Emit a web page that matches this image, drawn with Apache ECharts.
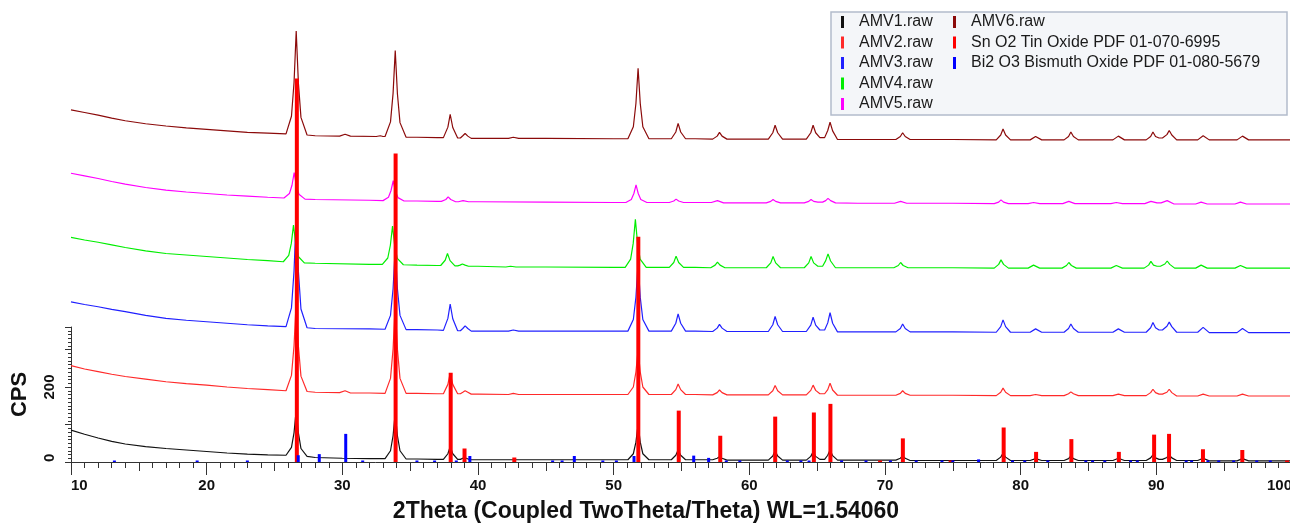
<!DOCTYPE html>
<html>
<head>
<meta charset="utf-8">
<title>XRD AMV</title>
<script src="https://cdn.jsdelivr.net/npm/echarts@6/dist/echarts.min.js"></script>
<style>
  html, body { margin: 0; padding: 0; background: #fff; }
  #chart { width: 1290px; height: 524px; }
</style>
</head>
<body>
<div id="chart"></div>
<script>
// scans, [2theta, CPS] (stacked offsets included)
var amv1 = [[10,85],[11,74],[12,64],[13,55],[14,48],[15.5,41],[17,36],[18.5,32],[20,28],[21.5,24],[23,21],[24.5,19],
  [25.85,18],[26.25,39],[26.44,78],[26.6,139],[26.76,78],[26.95,36],[27.4,15],[28,12],[30,10],[32,9],
  [33.15,9],[33.55,30],[33.74,70],[33.9,131],[34.06,70],[34.25,30],[34.7,8],[35.5,8],[37,7],
  [37.45,7],[37.78,22],[37.95,41],[38.14,22],[38.5,7],[38.7,7],[39.0,12],[39.4,6],[40,6],[45,6],[50,6],
  [51.05,6],[51.45,22],[51.64,53],[51.8,100],[51.96,53],[52.15,22],[52.6,6],[53,6],
  [54.25,6],[54.58,18],[54.75,32],[54.94,18],[55.3,6],[56,6],[57.3,6],[57.63,10],[57.8,14],[57.99,10],[58.35,5],[59,5],
  [61.4,5],[61.73,16],[61.9,30],[62.09,16],[62.45,5],[63,5],[64.2,5],[64.53,15],[64.7,27],[64.89,15],[65.2,7],
  [65.55,7],[65.78,18],[65.95,32],[66.14,17],[66.5,5],[68,5],[70.8,5],[71.13,10],[71.3,16],[71.49,10],[71.85,4],[75,4],
  [78.2,4],[78.53,13],[78.7,23],[78.89,13],[79.25,4],[80,4],[80.7,4],[81.1,9],[81.55,4],
  [83.2,4],[83.53,9],[83.7,16],[83.89,9],[84.25,4],[85,4],[86.8,4],[87.2,10],[87.65,4],[88.5,4],
  [89.25,4],[89.58,11],[89.75,19],[89.94,11],[90.2,7],[90.45,7],[90.78,12],[90.95,19],[91.14,11],[91.5,4],[92,4],
  [93.05,4],[93.45,10],[93.9,3],[95,3],[95.95,3],[96.35,9],[96.8,3],[98,3],[100,3]];
var amv2 = [[10,257],[11,248],[12,241],[13,234],[14,228],[15.5,221],[17,214],[18.5,209],[20,205],[21.5,200],[23,196],[24.5,193],
  [25.85,190],[26.25,231],[26.44,310],[26.6,430],[26.76,310],[26.95,229],[27.4,188],[28,186],[29.8,185],[30.2,190],[30.6,184],[32,184],
  [33.15,183],[33.55,223],[33.74,301],[33.9,420],[34.06,301],[34.25,223],[34.7,183],[35.5,183],[37,182],
  [37.45,182],[37.78,207],[37.95,237],[38.14,207],[38.5,182],[38.7,182],[38.88,186],[39.05,190],[39.25,186],[39.5,181],
  [40,181],[42.25,180],[42.6,183],[43.0,180],[45,180],[50,180],
  [51.05,180],[51.45,200],[51.64,240],[51.8,299],[51.96,240],[52.15,200],[52.6,180],[53,180],
  [54.25,180],[54.58,193],[54.75,208],[54.94,193],[55.3,180],[56,180],[57.3,179],[57.63,185],[57.8,192],[57.99,185],[58.35,179],[59,179],
  [61.4,179],[61.73,190],[61.9,204],[62.09,190],[62.45,179],[63,179],[64.2,179],[64.53,191],[64.7,205],[64.89,191],[65.2,182],
  [65.55,182],[65.78,193],[65.95,210],[66.14,192],[66.5,178],[68,178],[70.8,178],[71.13,183],[71.3,190],[71.49,183],[71.85,178],[75,178],
  [78.2,177],[78.53,186],[78.7,197],[78.89,186],[79.25,177],[80,177],[80.7,177],[81.1,180],[81.55,177],
  [83.2,177],[83.53,182],[83.7,187],[83.89,182],[84.25,177],[85,177],[86.8,177],[87.2,181],[87.65,177],[88.5,177],
  [89.25,177],[89.58,185],[89.75,194],[89.94,185],[90.2,181],[90.45,181],[90.78,186],[90.95,194],[91.14,185],[91.5,176],[92,176],
  [93.05,176],[93.45,181],[93.9,176],[95,176],[95.95,176],[96.35,181],[96.8,176],[98,176],[100,176]];
var amv3 = [[10,427],[11,420],[12,414],[13,407],[14,401],[15.5,391],[17,383],[18.5,378],[20,374],[21.5,370],[23,366],[24.5,363],
  [25.85,361],[26.25,411],[26.44,509],[26.6,656],[26.76,509],[26.95,408],[27.4,358],[28,356],[32,355],
  [33.15,354],[33.55,391],[33.74,462],[33.9,570],[34.06,462],[34.25,391],[34.7,353],[35.5,353],[37,352],
  [37.45,351],[37.78,383],[37.95,421],[38.14,382],[38.5,350],[38.7,350],[38.88,356],[39.05,363],[39.25,356],[39.5,349],
  [40,349],[42.25,349],[42.6,352],[43.0,349],[45,349],[50,349],
  [51.05,349],[51.45,380],[51.64,439],[51.8,530],[51.96,439],[52.15,380],[52.6,349],[53,349],
  [54.25,349],[54.58,370],[54.75,395],[54.94,370],[55.3,349],[56,349],[57.3,348],[57.63,357],[57.8,367],[57.99,357],[58.35,348],[59,348],
  [61.4,348],[61.73,366],[61.9,388],[62.09,366],[62.45,348],[63,348],[64.2,348],[64.53,365],[64.7,386],[64.89,365],[65.2,352],
  [65.55,352],[65.78,371],[65.95,398],[66.14,370],[66.5,347],[68,347],[70.8,347],[71.13,356],[71.3,368],[71.49,356],[71.85,347],[75,347],
  [78.2,346],[78.53,361],[78.7,379],[78.89,361],[79.25,346],[80,346],[80.7,346],[81.1,355],[81.55,346],
  [83.2,346],[83.53,356],[83.7,368],[83.89,356],[84.25,346],[85,346],[86.8,346],[87.2,355],[87.65,346],[88.5,346],
  [89.25,346],[89.58,358],[89.75,372],[89.94,358],[90.2,352],[90.45,352],[90.78,362],[90.95,373],[91.14,361],[91.5,346],[92,346],
  [93.05,346],[93.45,359],[93.9,345],[95,345],[95.95,345],[96.35,356],[96.8,345],[98,345],[100,345]];
var amv4 = [[10,599],[11,592],[12,586],[13,579],[14,572],[15.5,563],[17,556],[18.5,552],[20,548],[21.5,544],[23,540],[24.5,537],
  [25.65,534],[26.05,551],[26.24,583],[26.4,632],[26.56,582],[26.75,548],[27.2,531],[28,530],[32,527],
  [32.95,527],[33.35,544],[33.54,578],[33.7,629],[33.86,577],[34.05,543],[34.5,526],[35.5,525],[37,524],
  [37.25,524],[37.58,538],[37.75,556],[37.94,537],[38.3,523],[38.5,523],[38.68,525],[38.85,528],[39.05,525],[39.3,522],
  [40,522],[42.05,520],[42.4,522],[42.8,520],[45,520],[50,519],
  [50.85,519],[51.25,541],[51.44,583],[51.6,647],[51.76,583],[51.95,541],[52.4,519],[53,519],
  [54.1,519],[54.43,532],[54.6,549],[54.79,532],[55.15,519],[56,519],[57.15,518],[57.48,525],[57.65,533],[57.84,525],[58.2,518],[59,518],
  [61.25,518],[61.58,531],[61.75,548],[61.94,531],[62.3,518],[63,518],[64.05,518],[64.38,531],[64.55,548],[64.74,531],[65.05,522],
  [65.4,522],[65.63,537],[65.8,555],[65.99,536],[66.35,518],[68,518],[70.65,518],[70.98,524],[71.15,532],[71.34,524],[71.7,518],[75,518],
  [78.05,517],[78.38,527],[78.55,539],[78.74,527],[79.1,517],[80,517],[80.55,517],[80.95,525],[81.4,517],
  [83.05,517],[83.38,524],[83.55,532],[83.74,524],[84.1,517],[85,517],[86.65,517],[87.05,524],[87.5,517],[88.5,517],
  [89.1,517],[89.43,525],[89.6,535],[89.79,525],[90.05,522],[90.3,522],[90.63,528],[90.8,536],[90.99,527],[91.35,517],[92,517],
  [92.9,517],[93.3,525],[93.75,517],[95,517],[95.8,517],[96.2,524],[96.65,517],[98,517],[100,517]];
var amv5 = [[10,770],[11,763],[12,756],[13,748],[14,741],[15.5,732],[17,725],[18.5,720],[20,716],[21.5,712],[23,709],[24.5,706],
  [25.7,704],[26.1,716],[26.29,738],[26.45,772],[26.61,737],[26.8,714],[27.25,701],[28,700],[32,698],
  [33.0,697],[33.4,706],[33.59,724],[33.75,750],[33.91,723],[34.1,705],[34.55,696],[35.5,696],[37,695],
  [37.3,695],[37.63,700],[37.8,707],[37.99,700],[38.35,694],[38.55,694],[38.9,697],[39.3,694],
  [40,694],[45,693],[50,692],
  [50.9,692],[51.3,700],[51.49,716],[51.65,739],[51.81,716],[52.0,700],[52.45,692],[53,692],
  [54.1,692],[54.43,696],[54.6,701],[54.79,696],[55.15,692],[56,692],[57.2,692],[57.65,697],[58.1,691],[59,691],
  [61.25,691],[61.58,695],[61.75,700],[61.94,695],[62.3,691],[63,691],[64.05,691],[64.38,695],[64.55,700],[64.74,695],[65.05,693],
  [65.4,693],[65.63,697],[65.8,703],[65.99,697],[66.35,691],[68,690],[70.7,690],[71.15,695],[71.6,690],[75,690],
  [78.05,689],[78.38,693],[78.55,699],[78.74,693],[79.1,689],[80,689],[80.55,689],[80.95,692],[81.4,689],
  [83.1,689],[83.55,695],[84.0,689],[85,689],[86.65,689],[87.05,692],[87.5,689],[88.5,689],
  [89.15,689],[89.6,695],[90.05,691],[90.35,691],[90.8,697],[91.3,688],[92,688],
  [92.9,688],[93.3,693],[93.75,688],[95,688],[95.8,688],[96.2,693],[96.65,688],[98,688],[100,688]];
var amv6 = [[10,939],[11,932],[12,925],[13,917],[14,910],[15.5,902],[17,896],[18.5,891],[20,887],[21.5,883],[23,879],[24.5,877],
  [25.85,875],[26.25,922],[26.44,1012],[26.6,1149],[26.76,1011],[26.95,919],[27.4,872],[28,870],[29.8,869],[30.2,874],[30.6,869],
  [32.5,868],[32.8,870],[33.0,868],
  [33.15,868],[33.55,907],[33.74,983],[33.9,1097],[34.06,982],[34.25,905],[34.7,866],[35.5,866],[37,865],
  [37.45,865],[37.78,893],[37.95,927],[38.14,892],[38.5,864],[38.7,864],[38.88,870],[39.05,876],[39.25,869],[39.5,863],
  [40,863],[42.25,863],[42.6,866],[43.0,863],[45,863],[50,862],
  [51.05,862],[51.45,894],[51.64,956],[51.8,1050],[51.96,956],[52.15,894],[52.6,862],[53,862],
  [54.25,862],[54.58,880],[54.75,903],[54.94,880],[55.3,862],[56,862],[57.3,861],[57.63,869],[57.8,879],[57.99,869],[58.35,861],[59,861],
  [61.4,861],[61.73,878],[61.9,898],[62.09,878],[62.45,861],[63,861],[64.2,861],[64.53,878],[64.7,898],[64.89,878],[65.2,865],
  [65.55,865],[65.78,884],[65.95,906],[66.14,883],[66.5,860],[68,860],[70.8,860],[71.13,868],[71.3,878],[71.49,868],[71.85,860],[75,860],
  [78.2,859],[78.53,872],[78.7,888],[78.89,872],[79.25,859],[80,859],[80.7,859],[81.1,868],[81.55,859],
  [83.2,859],[83.53,868],[83.7,880],[83.89,868],[84.25,859],[85,859],[86.8,859],[87.2,869],[87.65,859],[88.5,859],
  [89.25,859],[89.58,868],[89.75,880],[89.94,868],[90.2,864],[90.45,864],[90.78,873],[90.95,884],[91.14,872],[91.5,859],[92,859],
  [93.05,859],[93.45,870],[93.9,859],[95,859],[95.95,859],[96.35,869],[96.8,859],[98,859],[100,859]];

// reference patterns (sticks)
var snO2 = [[26.61,1023],[33.89,823],[37.95,238],[38.97,36],[42.64,12],[51.78,601],[54.76,137],[57.82,70],[61.87,121],[64.72,132],[65.94,155],[69.6,4],[71.28,63],[74.8,4],[78.71,92],[81.1,27],[83.7,61],[87.2,27],[89.8,73],[90.9,75],[93.4,34],[96.3,32],[99.6,4]];
var bi2O3 = [[13.2,4],[19.3,4],[23.0,4],[26.75,18],[28.3,21],[30.25,75],[31.5,4],[35.5,4],[36.8,4],[38.4,4],[39.4,16],[45.5,4],[46.2,4],[47.1,16],[49.2,4],[50.2,4],[51.5,16],[55.9,17],[57.0,11],[58.3,4],[59.3,4],[62.8,4],[63.8,4],[64.4,4],[66.8,4],[68.6,4],[70.4,4],[72.3,4],[74.2,4],[75.0,4],[76.9,7],[79.4,4],[80.3,4],[82.0,4],[84.8,4],[85.3,4],[86.2,4],[88.1,4],[88.6,4],[92.2,4],[92.6,4],[93.8,4],[94.6,4],[95.7,4],[97.4,4],[98.4,4]];

var scanNames = ['AMV1.raw', 'AMV2.raw', 'AMV3.raw', 'AMV4.raw', 'AMV5.raw', 'AMV6.raw'];
var refNames = ['Sn O2 Tin Oxide PDF 01-070-6995', 'Bi2 O3 Bismuth Oxide PDF 01-080-5679'];
var yLabels = [0, 200];

var font = 'Arial, "Liberation Sans", sans-serif';
var scanColors = ['#111111', '#ff2a2a', '#2020ff', '#00ee00', '#ff00ff', '#8b0a0a'];
var scans = [amv1, amv2, amv3, amv4, amv5, amv6];

var series = scans.map(function (d, i) {
  return {
    name: scanNames[i],
    type: 'line',
    data: d,
    showSymbol: false,
    color: scanColors[i],
    lineStyle: { width: 1.2, color: scanColors[i] },
    z: 2
  };
});
series.push({
  name: refNames[0], type: 'bar', data: snO2, barWidth: 4, barGap: '-100%',
  color: '#ff0000', itemStyle: { color: '#ff0000' }, z: 3
});
series.push({
  name: refNames[1], type: 'bar', data: bi2O3, barWidth: 3, barGap: '-100%',
  color: '#0000ff', itemStyle: { color: '#0000ff' }, z: 4
});

var legendText = { fontSize: 16, color: '#1a1a1a', fontFamily: font, lineHeight: 16, padding: [0, 0, 0, 10] };

var chart = echarts.init(document.getElementById('chart'));
chart.setOption({
  animation: false,
  backgroundColor: '#ffffff',
  grid: [
    { left: 71, right: -2, top: 0, bottom: 62, outerBoundsMode: 'none', containLabel: false },
    { left: 71, width: 10, top: 327, height: 135, outerBoundsMode: 'none', containLabel: false }
  ],
  xAxis: [
    {
      gridIndex: 0, type: 'value', min: 10, max: 100, interval: 10, position: 'bottom',
      axisLine: { lineStyle: { color: '#333', width: 1 } },
      axisTick: { length: 13, lineStyle: { color: '#333' } },
      axisLabel: {
        margin: 16, fontSize: 15, fontWeight: 'bold', color: '#111', fontFamily: font,
        alignMinLabel: 'left', alignMaxLabel: 'right'
      },
      splitLine: { show: false }
    },
    {
      gridIndex: 0, type: 'value', min: 10, max: 100, interval: 5, position: 'bottom',
      axisLine: { show: false },
      axisTick: { length: 9, lineStyle: { color: '#333' } },
      minorTick: { show: true, splitNumber: 5, length: 6, lineStyle: { color: '#333' } },
      axisLabel: { show: false },
      splitLine: { show: false }
    },
    { gridIndex: 1, type: 'value', min: 0, max: 1, show: false }
  ],
  yAxis: [
    { gridIndex: 0, type: 'value', min: 0, max: 1232, show: false, splitLine: { show: false } },
    {
      gridIndex: 1, type: 'value', min: 0, max: 360, interval: 100, position: 'left',
      axisLine: { show: true, lineStyle: { color: '#333' } },
      axisTick: { show: true, length: 6, lineStyle: { color: '#333' } },
      axisLabel: {
        rotate: 90, margin: 14, fontSize: 15, fontWeight: 'bold', color: '#111', fontFamily: font,
        alignMinLabel: 'left',
        formatter: function (v) { return yLabels.indexOf(v) >= 0 ? String(v) : ''; }
      },
      splitLine: { show: false },
      name: 'CPS', nameLocation: 'middle', nameGap: 40, nameRotate: 90,
      nameTextStyle: { fontSize: 22, fontWeight: 'bold', color: '#111', fontFamily: font }
    },
    {
      gridIndex: 1, type: 'value', min: 0, max: 360, interval: 10, position: 'left',
      axisLine: { show: false },
      axisTick: { show: true, length: 3, lineStyle: { color: '#333' } },
      axisLabel: { show: false },
      splitLine: { show: false }
    }
  ],
  legend: [
    {
      data: scanNames.slice(0, 5), orient: 'vertical', left: 841, top: 14, padding: 0,
      icon: 'rect', itemWidth: 3, itemHeight: 12, itemGap: 4.5, textStyle: legendText
    },
    {
      data: [scanNames[5]].concat(refNames), orient: 'vertical', left: 953, top: 14, padding: 0,
      icon: 'rect', itemWidth: 3, itemHeight: 12, itemGap: 4.5, textStyle: legendText
    }
  ],
  graphic: [
    {
      type: 'rect', z: 0, silent: true,
      shape: { x: 831, y: 12, width: 456, height: 103 },
      style: { fill: '#f4f6f9', stroke: '#b2bccb', lineWidth: 1.5 }
    },
    {
      type: 'text', z: 5, silent: true, x: 646, y: 512,
      style: {
        text: '2Theta (Coupled TwoTheta/Theta) WL=1.54060',
        font: 'bold 23px ' + font, fill: '#111', align: 'center', verticalAlign: 'middle'
      }
    }
  ],
  series: series
});
</script>
</body>
</html>
